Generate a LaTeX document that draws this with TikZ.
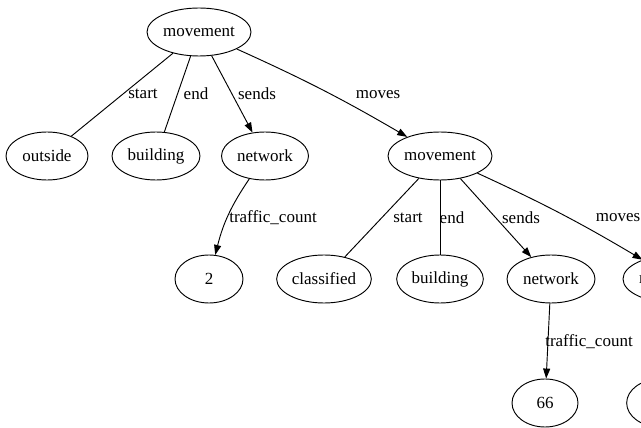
\documentclass[tikz,border=0pt]{standalone}
\usepackage{fontspec}
\setmainfont{Liberation Serif}
\usetikzlibrary{shapes.geometric,arrows.meta}
\tikzset{
  state/.style={draw, ellipse, line width=0.8pt, inner sep=0pt, minimum height=1.44cm,
    font=\fontsize{14.5}{17}\selectfont},
  lbl/.style={inner sep=0pt, font=\fontsize{14.5}{17}\selectfont},
  link/.style={line width=0.8pt},
  arc/.style={line width=0.8pt, -{Triangle[length=8.5pt,width=6pt]}}
}
\begin{document}
\begin{tikzpicture}[x=0.03cm, y=-0.03cm]
            \useasboundingbox (0,0) rectangle (641,428);
            \clip (0,0) rectangle (641,428);
            \node[state, minimum width=3.12cm] (move) at (199, 32) {movement};
            \node[state, minimum width=2.46cm] (outside) at (47, 156) {outside};
            \node[state, minimum width=2.64cm] (build) at (156, 156) {building};
            \node[state, minimum width=2.61cm] (net) at (265, 156) {network};
            \node[state, minimum width=3.12cm] (movetwo) at (440, 156) {movement};
            \node[state, minimum width=2.04cm] (two) at (209, 279) {2};
            \node[state, minimum width=2.84cm] (classif) at (324, 279) {classified};
            \node[state, minimum width=2.6cm] (buildtwo) at (440, 279) {building};
            \node[state, minimum width=2.64cm] (nettwo) at (551, 279) {network};
            \node[state, minimum width=3.12cm] (movethree) at (675, 279) {movement};
            \node[state, minimum width=1.98cm] (sixtysix) at (545, 403) {66};
            \node[state, minimum width=2.0cm] (hidden) at (660, 403) {};
            \draw[link] (move) -- (outside);
            \node[lbl] (lstart) at (143, 94) {start};
            \draw[link] (move) -- (build);
            \node[lbl] (lend) at (196, 94) {end};
            \draw[arc] (move) -- (net);
            \node[lbl] (lsends) at (257, 94) {sends};
            \draw[arc] (move) to[bend left=3] (movetwo);
            \node[lbl] (lmoves) at (378, 95) {moves};
            \draw[arc] (net) to[bend right=10] (two);
            \node[lbl] (ltraffic) at (273, 218) {traffic\_count};
            \draw[link] (movetwo) -- (classif);
            \node[lbl] (lstarttwo) at (408, 218) {start};
            \draw[link] (movetwo) -- (buildtwo);
            \node[lbl] (lendtwo) at (452, 218) {end};
            \draw[arc] (movetwo) -- (nettwo);
            \node[lbl] (lsendstwo) at (521, 218) {sends};
            \draw[arc] (movetwo) to[bend left=3] (movethree);
            \node[lbl] (lmovestwo) at (618, 218) {moves};
            \draw[arc] (nettwo) -- (sixtysix);
            \node[lbl] (ltraffictwo) at (589, 342) {traffic\_count};
        \end{tikzpicture}
\end{document}
